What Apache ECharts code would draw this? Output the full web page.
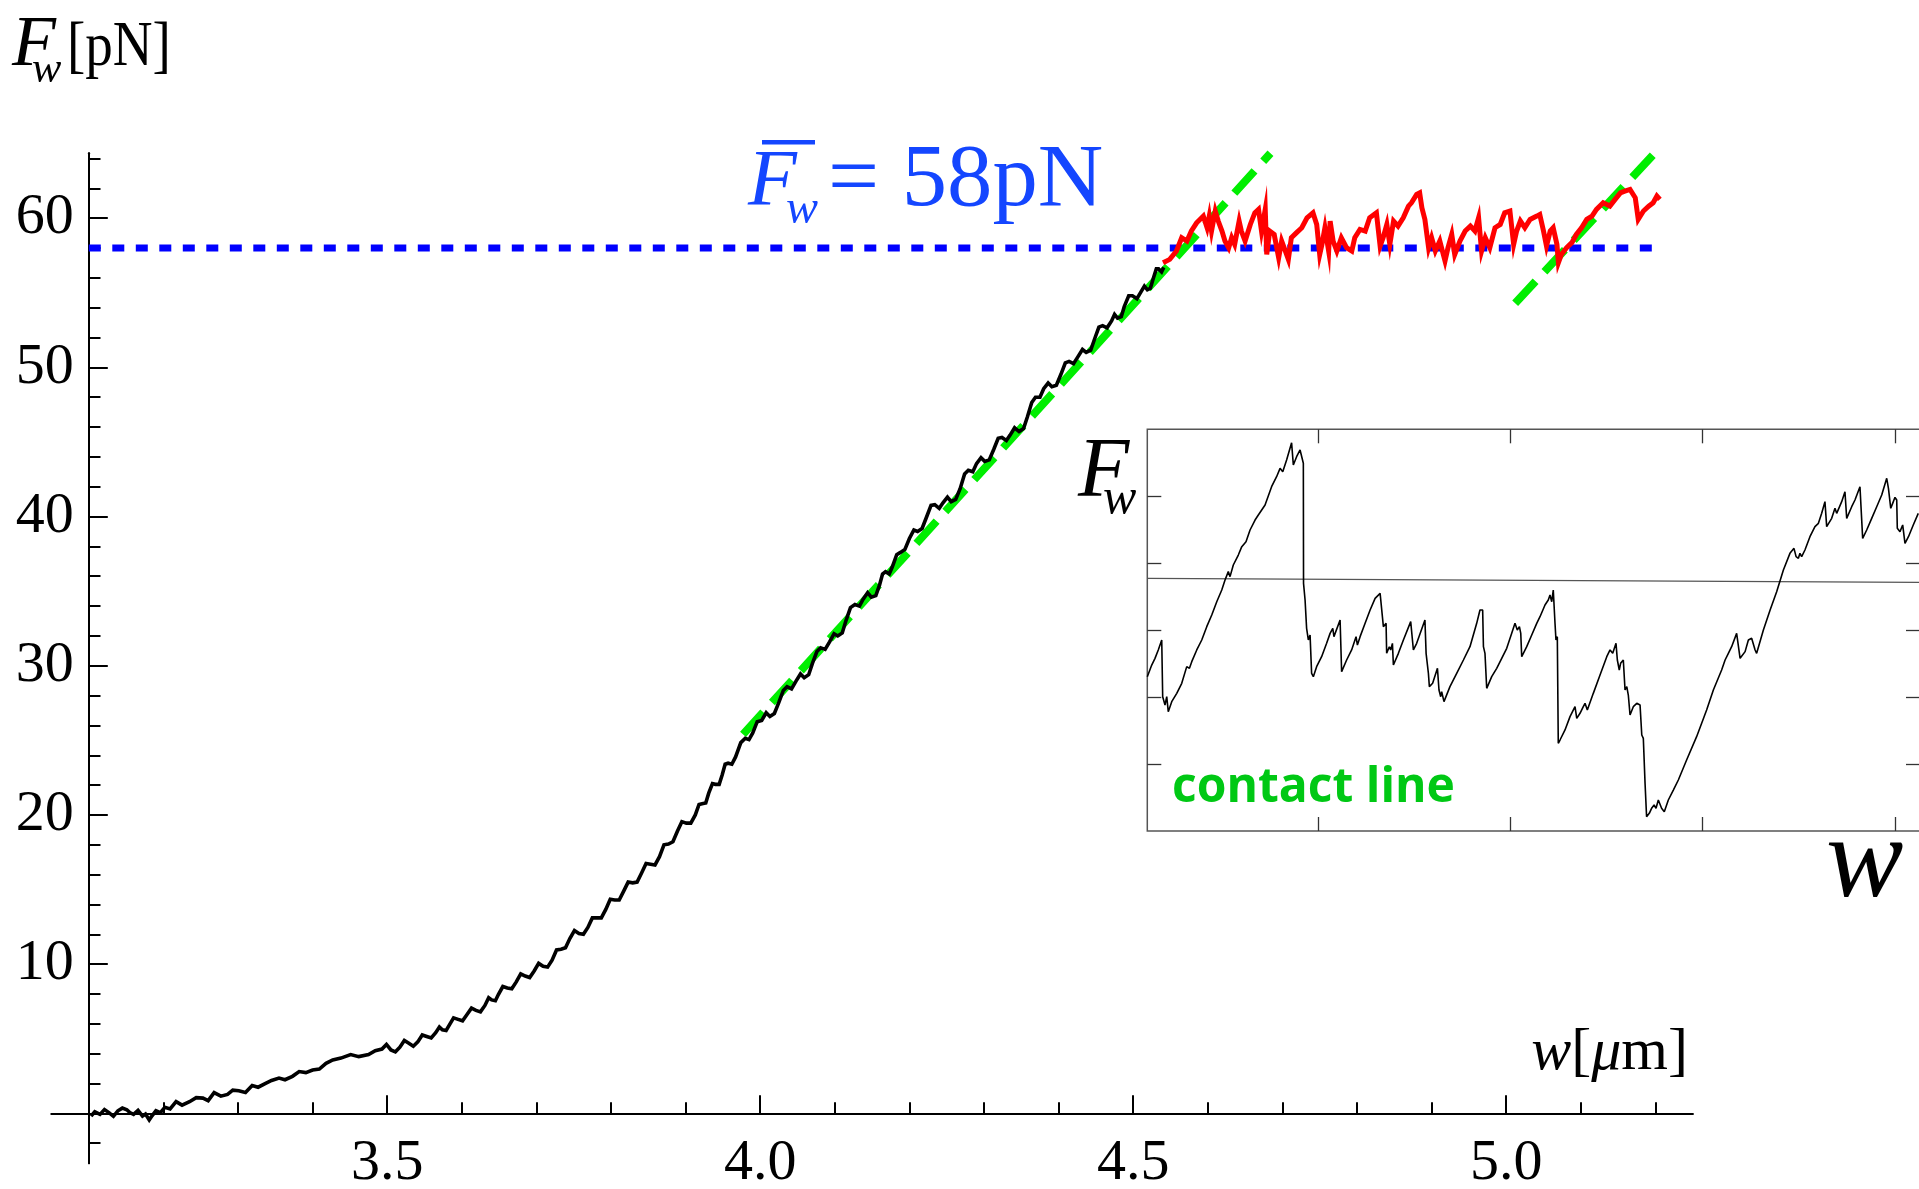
<!DOCTYPE html>
<html>
<head>
<meta charset="utf-8">
<title>Wetting force vs. displacement</title>
<script src="https://cdn.jsdelivr.net/npm/echarts@6/dist/echarts.min.js"></script>
<style>
  html, body { margin: 0; padding: 0; background: #fff; }
  #chart { width: 1919px; height: 1189px; }
</style>
</head>
<body>
<div id="chart"></div>
<script>
// ---- main trace: wetting force F_w [pN] against displacement w [um] ----
const approachW = [3.103,3.108,3.115,3.121,3.127,3.133,3.139,3.145,3.151,3.155,
  3.160,3.166,3.172,3.176,3.181,3.185,3.190,3.196,3.202,3.209,
  3.217,3.225,3.235,3.244,3.253,3.260,3.268,3.277,3.286,3.293,
  3.301,3.310,3.319,3.327,3.337,3.345,3.355,3.363,3.373,3.382,
  3.391,3.400,3.409,3.418,3.427,3.438,3.451,3.462,3.475,3.484,
  3.493,3.499,3.505,3.511,3.517,3.523,3.529,3.535,3.541,3.547,
  3.553,3.559,3.565,3.570,3.574,3.579,3.583,3.589,3.595,3.601,
  3.607,3.613,3.619,3.625,3.631,3.636,3.640,3.645,3.649,3.655,
  3.661,3.667,3.673,3.679,3.685,3.691,3.697,3.703,3.709,3.715,
  3.721,3.727,3.733,3.739,3.745,3.751,3.757,3.763,3.769,3.775,
  3.781,3.787,3.793,3.799,3.805,3.811,3.817,3.823,3.829,3.835,
  3.841,3.847,3.853,3.859,3.865,3.871,3.877,3.883,3.889,3.895,
  3.901,3.907,3.913,3.918,3.922,3.927,3.931,3.936,3.940,3.945,
  3.949,3.953,3.957,3.962,3.967,3.974,3.980,3.985,3.990,3.996,
  4.002,4.008,4.013,4.019,4.025,4.031,4.036,4.042,4.048,4.054,
  4.059,4.065,4.070,4.076,4.081,4.087,4.093,4.099,4.104,4.110,
  4.115,4.121,4.127,4.133,4.138,4.144,4.149,4.155,4.160,4.164,
  4.168,4.173,4.177,4.183,4.188,4.194,4.200,4.206,4.211,4.217,
  4.223,4.229,4.234,4.240,4.245,4.251,4.256,4.262,4.268,4.274,
  4.279,4.285,4.290,4.296,4.301,4.307,4.313,4.319,4.324,4.330,
  4.335,4.341,4.347,4.353,4.358,4.364,4.369,4.375,4.380,4.386,
  4.391,4.397,4.403,4.409,4.414,4.420,4.426,4.432,4.437,4.443,
  4.448,4.454,4.459,4.465,4.471,4.475,4.479,4.484,4.488,4.494,
  4.499,4.505,4.510,4.515,4.519,4.523,4.527,4.531,4.534,4.538,
  4.541];
const approachF = [-0.19,0.10,-0.07,0.25,0.05,-0.20,0.17,0.35,0.24,0.05,
  -0.07,0.20,-0.19,-0.05,-0.44,-0.15,0.17,0.05,0.41,0.30,
  0.78,0.55,0.78,1.05,1.02,0.85,1.39,1.15,1.27,1.55,
  1.51,1.40,1.87,1.75,2.00,2.20,2.36,2.25,2.48,2.80,
  2.73,2.90,2.97,3.35,3.58,3.70,3.94,3.80,3.94,4.20,
  4.31,4.62,4.25,4.12,4.43,4.88,4.70,4.50,4.79,5.25,
  5.15,5.05,5.40,5.78,5.60,5.55,5.89,6.40,6.30,6.20,
  6.62,7.05,6.90,6.80,7.23,7.75,7.60,7.55,7.96,8.50,
  8.40,8.35,8.81,9.35,9.20,9.10,9.54,10.05,9.85,9.80,
  10.27,10.95,11.00,11.10,11.73,12.25,12.05,12.00,12.46,13.10,
  13.10,13.10,13.67,14.35,14.30,14.30,14.89,15.50,15.45,15.50,
  16.11,16.75,16.70,16.65,17.20,18.00,18.05,18.20,18.91,19.55,
  19.45,19.45,20.00,20.70,20.75,20.80,21.46,22.10,22.05,22.05,
  22.68,23.40,23.47,23.40,23.89,24.85,25.14,25.05,25.50,26.25,
  26.34,26.85,26.60,26.80,27.54,28.35,28.60,28.45,28.97,29.45,
  29.20,29.40,30.16,30.95,31.20,31.10,31.60,32.15,32.00,32.20,
  33.03,33.90,34.10,34.00,34.46,34.90,34.60,34.70,35.42,36.15,
  36.30,36.15,36.62,37.45,37.60,37.80,38.53,39.10,39.00,39.20,
  39.97,40.75,40.80,40.55,40.92,41.30,41.00,41.15,41.87,42.85,
  43.10,43.00,43.55,43.95,43.70,43.80,44.50,45.25,45.30,45.10,
  45.46,45.95,45.70,45.90,46.66,47.65,48.00,48.00,48.57,48.95,
  48.70,48.80,49.52,50.30,50.40,50.25,50.72,51.20,51.00,51.15,
  51.87,52.70,52.80,52.65,53.11,53.55,53.30,53.40,54.07,54.80,
  54.80,54.60,55.03,55.45,55.20,55.30,55.98,56.60,56.60,56.40,
  56.70];

// past the depinning threshold: the plateau
const plateauW = [4.540,4.549,4.558,4.565,4.572,4.578,4.585,4.594,4.599,4.602,
  4.605,4.610,4.614,4.619,4.623,4.628,4.632,4.636,4.642,4.645,
  4.650,4.657,4.663,4.668,4.672,4.677,4.679,4.683,4.689,4.695,
  4.699,4.704,4.708,4.712,4.719,4.726,4.733,4.741,4.746,4.750,
  4.753,4.757,4.762,4.764,4.768,4.773,4.779,4.786,4.793,4.797,
  4.804,4.811,4.817,4.826,4.831,4.835,4.840,4.844,4.849,4.855,
  4.862,4.869,4.873,4.880,4.884,4.887,4.891,4.896,4.900,4.905,
  4.911,4.918,4.922,4.927,4.931,4.938,4.945,4.952,4.958,4.963,
  4.967,4.972,4.978,4.985,4.992,4.998,5.005,5.010,5.014,5.019,
  5.025,5.032,5.041,5.045,5.050,5.054,5.059,5.063,5.068,5.070,
  5.074,5.081,5.088,5.094,5.101,5.108,5.115,5.121,5.130,5.139,
  5.146,5.153,5.159,5.166,5.173,5.177,5.184,5.191,5.197,5.202,
  5.206];
const plateauF = [57.02,57.24,57.80,58.69,58.47,59.14,59.69,60.14,59.36,60.14,
  59.14,60.48,59.81,59.14,58.47,58.02,58.69,58.24,59.81,59.14,
  58.47,59.58,60.36,60.59,59.14,60.59,57.57,59.14,58.91,57.35,
  58.47,57.80,57.24,58.69,59.03,59.36,60.03,60.36,59.58,57.57,
  58.24,59.36,57.80,59.81,58.47,57.80,58.69,58.02,57.80,58.69,
  59.25,59.14,60.03,60.36,58.13,58.69,59.58,58.24,59.81,59.47,
  60.03,60.81,61.03,61.59,61.70,60.70,59.92,58.02,58.69,57.80,
  58.47,57.13,58.02,58.91,57.57,58.47,59.14,59.47,59.14,60.03,
  57.80,58.69,58.02,59.36,59.58,60.36,60.48,58.24,59.14,59.81,
  59.36,59.92,60.14,60.25,59.14,58.13,59.14,59.36,58.24,57.02,
  57.57,58.02,58.36,58.91,59.36,59.92,60.14,60.59,61.03,60.81,
  61.26,61.70,61.81,61.93,61.37,59.92,60.48,60.81,61.03,61.48,
  61.26];

// linear elastic fits (end points)
const fitW1 = [3.977, 4.684];
const fitF1 = [25.4, 64.35];
const fitW2 = [5.012, 5.199];
const fitF2 = [54.3, 64.35];

// mean plateau force
const meanForce = 58;
const meanSpanW = [3.1, 5.208];

// tick positions
const xMajorTicks = [3.5, 4.0, 4.5, 5.0];
const xMinorTicks = [3.2, 3.3, 3.4, 3.6, 3.7, 3.8, 3.9, 4.1, 4.2, 4.3, 4.4, 4.6, 4.7, 4.8, 4.9, 5.1, 5.2];
const yMajorTicks = [0, 10, 20, 30, 40, 50, 60];
const yLabels = [10, 20, 30, 40, 50, 60];
const yMinorTicks = [-2, 2, 4, 6, 8, 12, 14, 16, 18, 22, 24, 26, 28, 32, 34, 36, 38,
  42, 44, 46, 48, 52, 54, 56, 58, 62, 64];

// ---- inset: stick-slip trace of the contact line (arbitrary units) ----
const insetPos = [0.114,0.137,0.154,0.171,0.189,0.194,0.206,0.215,0.223,0.241,
  0.267,0.293,0.319,0.333,0.345,0.371,0.397,0.423,0.449,0.475,
  0.501,0.518,0.535,0.544,0.561,0.587,0.605,0.627,0.648,0.674,
  0.691,0.700,0.726,0.760,0.786,0.804,0.818,0.838,0.864,0.873,
  0.890,0.908,0.916,0.925,0.926,0.934,0.942,0.951,0.960,0.968,
  0.977,0.994,1.020,1.046,1.064,1.078,1.084,1.116,1.124,1.150,
  1.176,1.199,1.206,1.220,1.246,1.272,1.298,1.324,1.332,1.341,
  1.355,1.358,1.372,1.379,1.388,1.393,1.419,1.445,1.483,1.497,
  1.514,1.557,1.563,1.575,1.580,1.597,1.622,1.630,1.639,1.644,
  1.656,1.687,1.722,1.757,1.791,1.826,1.843,1.857,1.861,1.869,
  1.878,1.904,1.930,1.956,1.982,2.008,2.025,2.037,2.048,2.055,
  2.060,2.065,2.086,2.112,2.138,2.155,
  2.181,2.198,2.207,2.216,2.224,2.233,2.238,2.245,2.250,2.259,
  2.285,2.311,2.337,2.346,2.363,2.380,2.389,2.401,2.432,2.467,
  2.502,2.519,2.533,2.550,2.557,2.567,2.574,2.588,2.597,2.606,
  2.614,2.623,2.640,2.658,2.675,2.684,2.692,2.701,2.709,2.723,
  2.735,2.748,2.758,2.770,2.787,2.801,2.822,2.848,2.874,2.917,
  2.969,3.021,3.056,3.099,3.117,3.134,3.151,3.177,3.186,3.195,
  3.221,3.238,3.255,3.273,3.281,3.316,3.351,3.385,3.420,3.454,
  3.475,3.486,3.498,3.506,3.515,3.532,3.558,3.584,3.602,3.619,
  3.636,3.645,3.671,3.688,3.697,3.723,3.740,3.749,3.775,3.792,
  3.818,3.827,3.832,3.853,3.879,3.905,3.931,3.957,3.966,3.978,
  3.988,4.000,4.009,4.012,4.026,4.040,4.052,4.070,4.095,4.121];
const insetForce = [2.305,2.479,2.579,2.704,2.853,2.006,1.882,2.006,1.782,1.932,
  2.056,2.206,2.455,2.430,2.529,2.704,2.853,3.052,3.226,3.425,
  3.600,3.749,3.874,3.799,3.973,4.122,4.247,4.322,4.496,4.645,
  4.720,4.695,4.869,5.143,5.292,5.417,5.367,5.541,5.800,5.467,
  5.591,5.691,5.666,5.492,3.699,3.450,3.027,2.853,2.928,2.355,
  2.305,2.455,2.604,2.803,2.952,3.027,2.903,3.152,2.380,2.554,
  2.704,2.903,2.778,2.903,3.102,3.301,3.475,3.550,3.550,3.052,
  3.102,2.654,2.753,2.704,2.803,2.479,2.654,2.853,3.127,2.704,
  2.803,3.152,2.654,2.355,2.156,2.206,2.430,2.106,2.006,2.081,
  1.932,2.156,2.355,2.554,2.753,3.102,3.301,3.301,2.753,2.654,
  2.131,2.305,2.430,2.579,2.728,2.952,3.102,3.002,3.052,2.952,
  2.604,2.629,2.753,2.928,3.102,3.201,
  3.376,3.450,3.525,3.425,3.600,3.102,2.853,2.903,1.309,1.359,
  1.509,1.708,1.857,1.683,1.758,1.857,1.907,1.807,2.056,2.330,
  2.604,2.704,2.654,2.803,2.554,2.405,2.504,2.554,2.106,2.156,
  2.031,1.733,1.857,1.907,1.882,1.434,1.384,0.712,0.214,0.264,
  0.339,0.388,0.339,0.463,0.339,0.289,0.463,0.612,0.762,1.060,
  1.409,1.807,2.106,2.405,2.554,2.654,2.753,2.952,2.952,2.579,
  2.679,2.853,2.878,2.704,2.654,3.002,3.301,3.575,3.898,4.147,
  4.222,4.098,4.073,4.147,4.098,4.197,4.396,4.546,4.595,4.745,
  4.919,4.546,4.670,4.820,4.745,4.919,5.068,4.670,4.844,4.944,
  5.143,5.143,4.371,4.496,4.670,4.844,5.019,5.268,5.118,4.820,
  4.894,4.984,4.944,4.521,4.471,4.571,4.297,4.396,4.571,4.745];
const insetBasePos = [0.114, 4.130];
const insetBaseForce = [3.774, 3.714];
const insetXTicks = [1, 2, 3, 4];
const insetYTicks = [1, 2, 3, 4, 5];

const zip = (xs, ys) => xs.map((x, i) => [x, ys[i]]);

const SERIF = "'Liberation Serif', 'Times New Roman', serif";
const INK = '#000';

function mainAxis(extra) {
  return Object.assign({
    type: 'value',
    gridIndex: 0,
    splitLine: { show: false },
    minorTick: { show: false },
    axisLine: { lineStyle: { color: INK, width: 2 } }
  }, extra);
}

// the x axis sits on F = 0; its labels are laid out from the grid's bottom edge,
// hence the negative margin
const xAxes = [
  mainAxis({
    min: 3.05, max: 5.25, position: 'bottom',
    axisLine: { onZero: true, onZeroAxisIndex: 0, lineStyle: { color: INK, width: 2 } },
    axisTick: { inside: true, length: 18, customValues: xMajorTicks, lineStyle: { color: INK, width: 2 } },
    axisLabel: {
      customValues: xMajorTicks, margin: -29, color: INK,
      fontFamily: SERIF, fontSize: 58,
      formatter: v => Number(v).toFixed(1)
    }
  }),
  mainAxis({
    min: 3.05, max: 5.25, position: 'bottom',
    axisLine: { onZero: true, onZeroAxisIndex: 0, lineStyle: { color: INK, width: 2 } },
    axisTick: { inside: true, length: 11, customValues: xMinorTicks, lineStyle: { color: INK, width: 2 } },
    axisLabel: { show: false }
  })
];
const yAxes = [
  mainAxis({
    min: -3.35, max: 64.35, position: 'left', offset: -37.3,
    axisLine: { onZero: false, lineStyle: { color: INK, width: 2 } },
    axisTick: { inside: true, length: 19, customValues: yMajorTicks, lineStyle: { color: INK, width: 2 } },
    axisLabel: { customValues: yLabels, margin: 15, color: INK, fontFamily: SERIF, fontSize: 58,
      padding: [5, 0, 0, 0] }
  }),
  mainAxis({
    min: -3.35, max: 64.35, position: 'left', offset: -37.3,
    axisLine: { onZero: false, lineStyle: { color: INK, width: 2 } },
    axisTick: { inside: true, length: 11.7, customValues: yMinorTicks, lineStyle: { color: INK, width: 2 } },
    axisLabel: { show: false }
  })
];

// inset frame axes: ticks on all four sides, no labels
function insetAxis(position, min, max, ticks) {
  return {
    type: 'value', gridIndex: 1, position, min, max,
    splitLine: { show: false },
    axisLine: { show: false, onZero: false },
    axisTick: { inside: true, length: 14, customValues: ticks, lineStyle: { color: '#333', width: 1.3 } },
    axisLabel: { show: false }
  };
}
xAxes.push(insetAxis('bottom', 0.114, 4.130, insetXTicks));
xAxes.push(insetAxis('top', 0.114, 4.130, insetXTicks));
yAxes.push(insetAxis('left', 0, 6, insetYTicks));
yAxes.push(insetAxis('right', 0, 6, insetYTicks));

function label(x, y, text, font, fill, extra) {
  return Object.assign({
    type: 'text', x, y, silent: true, z: 10,
    style: { text, font, fill: fill || INK, align: 'left', verticalAlign: 'middle' }
  }, extra || {});
}

const BLUE = '#1446ff';

const option = {
  animation: false,
  backgroundColor: '#fff',
  grid: [
    { left: 51.5, right: 226.3, top: 153.3, bottom: 25.7, containLabel: false, outerBoundsMode: 'none' },
    { left: 1147.3, right: -1, top: 429.3, height: 401.7, show: true,
      borderColor: '#555', borderWidth: 1.5, backgroundColor: '#fff',
      containLabel: false, outerBoundsMode: 'none' }
  ],
  xAxis: xAxes,
  yAxis: yAxes,
  series: [
    {
      name: 'mean force', type: 'line', xAxisIndex: 0, yAxisIndex: 0,
      data: meanSpanW.map(w => [w, meanForce]),
      symbol: 'none', z: 2,
      lineStyle: { color: '#0000ff', width: 7, type: [12, 11.5], cap: 'butt' }
    },
    {
      name: 'fit 1', type: 'line', xAxisIndex: 0, yAxisIndex: 0,
      data: zip(fitW1, fitF1), symbol: 'none', z: 3,
      lineStyle: { color: '#00ee00', width: 8, type: [30, 13], cap: 'butt' }
    },
    {
      name: 'fit 2', type: 'line', xAxisIndex: 0, yAxisIndex: 0,
      data: zip(fitW2, fitF2), symbol: 'none', z: 3,
      lineStyle: { color: '#00ee00', width: 8, type: [30, 13], cap: 'butt' }
    },
    {
      name: 'approach', type: 'line', xAxisIndex: 0, yAxisIndex: 0,
      data: zip(approachW, approachF), symbol: 'none', z: 4,
      lineStyle: { color: '#000', width: 3.6, join: 'miter' }
    },
    {
      name: 'plateau', type: 'line', xAxisIndex: 0, yAxisIndex: 0,
      data: zip(plateauW, plateauF), symbol: 'none', z: 5,
      lineStyle: { color: '#ff0000', width: 5, join: 'miter' }
    },
    {
      name: 'inset baseline', type: 'line', xAxisIndex: 2, yAxisIndex: 2,
      data: zip(insetBasePos, insetBaseForce), symbol: 'none', z: 6,
      lineStyle: { color: '#555', width: 1.3 }
    },
    {
      name: 'inset trace', type: 'line', xAxisIndex: 2, yAxisIndex: 2,
      data: zip(insetPos, insetForce), symbol: 'none', z: 7,
      lineStyle: { color: '#000', width: 1.6 }
    }
  ],
  graphic: [
    // slide heading, mostly above the visible area
    label(1044, -42, 'depinning', "bold 86px 'Liberation Sans', Arial, sans-serif", '#ff2200'),
    // y axis title
    label(12, 46, 'F', "italic 72px " + SERIF),
    label(32, 70, 'w', "italic 44px " + SERIF),
    label(67, 48, '[pN]', "64px " + SERIF, INK, { scaleX: 0.86 }),
    // x axis title
    {
      type: 'text', x: 1688, y: 1053, silent: true, z: 10,
      style: {
        text: '{i|w}{r|[}{i|μ}{r|m]}',
        align: 'right', verticalAlign: 'middle', fill: INK,
        font: "60px " + SERIF,
        rich: {
          i: { fontStyle: 'italic', fontSize: 60, fontFamily: SERIF, fill: INK },
          r: { fontSize: 60, fontFamily: SERIF, fill: INK }
        }
      }
    },
    // mean force annotation
    label(748, 184, 'F', "italic 80px " + SERIF, BLUE),
    { type: 'rect', silent: true, z: 10, shape: { x: 762, y: 140, width: 53, height: 4.5 }, style: { fill: BLUE } },
    label(786, 210, 'w', "italic 48px " + SERIF, BLUE),
    label(828, 182, '= 58pN', "88px " + SERIF, BLUE, { scaleX: 1.03 }),
    // inset annotations
    label(1078, 474, 'F', "italic 84px " + SERIF),
    label(1103, 500, 'w', "italic 50px " + SERIF),
    label(1826, 865, 'w', "italic 116px " + SERIF),
    label(1172, 788, 'contact line', "bold 48px 'Open Sans', 'Liberation Sans', sans-serif", '#00c814')
  ]
};

const chart = echarts.init(document.getElementById('chart'), null, { renderer: 'canvas' });
chart.setOption(option);
</script>
</body>
</html>
